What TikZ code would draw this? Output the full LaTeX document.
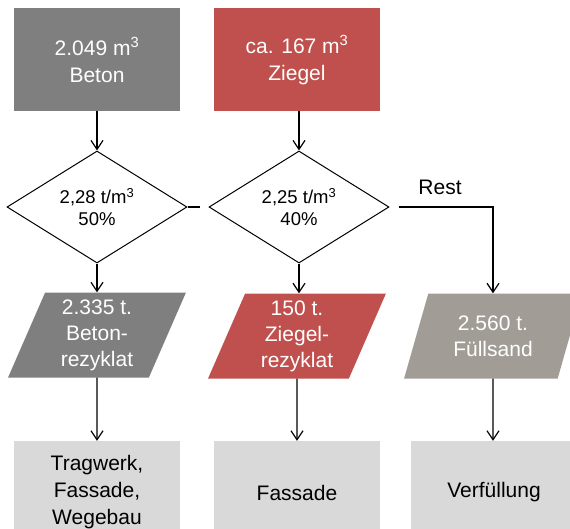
\documentclass[tikz,border=0pt]{standalone}
\usepackage{fontspec}
\setmainfont{Liberation Sans}
\usetikzlibrary{shapes.geometric,arrows.meta}
\definecolor{betongrau}{HTML}{7F7F7F}
\definecolor{ziegelrot}{HTML}{C0504D}
\definecolor{sandgrau}{HTML}{A19C96}
\definecolor{hellgrau}{HTML}{D9D9D9}

\begin{document}
\begin{tikzpicture}[x=1pt,y=-1pt,
	box/.style={rectangle,minimum width=166pt,minimum height=103pt,inner sep=0pt,align=center,font=\fontsize{21}{27}\selectfont},
	raute/.style={diamond,draw,line width=1pt,fill=white,minimum width=180pt,minimum height=104pt,inner sep=0pt,align=center,font=\fontsize{18.5}{22}\selectfont},
	schraeg/.style={trapezium,trapezium left angle=70,trapezium right angle=110,trapezium stretches=true,minimum width=178pt,minimum height=85pt,inner sep=0pt,align=center,text=white,font=\fontsize{21}{26}\selectfont},
	pfeil/.style={-{Straight Barb[length=9pt,width=12pt]},line width=1.2pt}]
			\useasboundingbox (0,0) rectangle (570,528);
			\node[box,fill=betongrau,text=white] at (97,59.5) (t1) {\strut2.049 m\textsuperscript{3}\\Beton};
			\node[box,fill=ziegelrot,text=white] at (297,59.5) (t2) {\strut ca. 167 m\textsuperscript{3}\\Ziegel};
			\node[raute] at (97,207) (d1) {2,28 t/m\textsuperscript{3}\\50\%};
			\node[raute] at (299,207) (d2) {2,25 t/m\textsuperscript{3}\\40\%};
			\coordinate (s1) at (200,207);
			\node[schraeg,fill=betongrau] at (97,335) (p1) {2.335 t.\\Beton-\\rezyklat};
			\node[schraeg,fill=ziegelrot] at (297,336) (p2) {150 t.\\Ziegel-\\rezyklat};
			\node[schraeg,fill=sandgrau] at (493,336) (p3) {2.560 t.\\Füllsand};
			\node[box,fill=hellgrau] at (97,492.5) (u1) {Tragwerk,\\Fassade,\\Wegebau};
			\node[box,fill=hellgrau] at (297,492.5) (u2) {Fassade};
			\node[box,fill=hellgrau] at (494,492.5) (u3) {Verfüllung};
			\node[font=\fontsize{21}{26}\selectfont] at (440,187) (rest) {Rest};
			\draw[pfeil] (t1) -- (d1);
			\draw[pfeil] (t2.south -| d2) -- (d2);
			\draw[line width=1.2pt] (d1.east) -- (s1);
			\draw[pfeil] (d1) -- (p1);
			\draw[pfeil] (d2) -- (d2 |- p2.north);
			\draw[pfeil,shorten <=9pt] (d2.east) -| (p3.north);
			\draw[pfeil] (p1) -- (u1);
			\draw[pfeil] (p2) -- (u2);
			\draw[pfeil] (p3) -- (p3 |- u3.north);
\end{tikzpicture}
\end{document}
